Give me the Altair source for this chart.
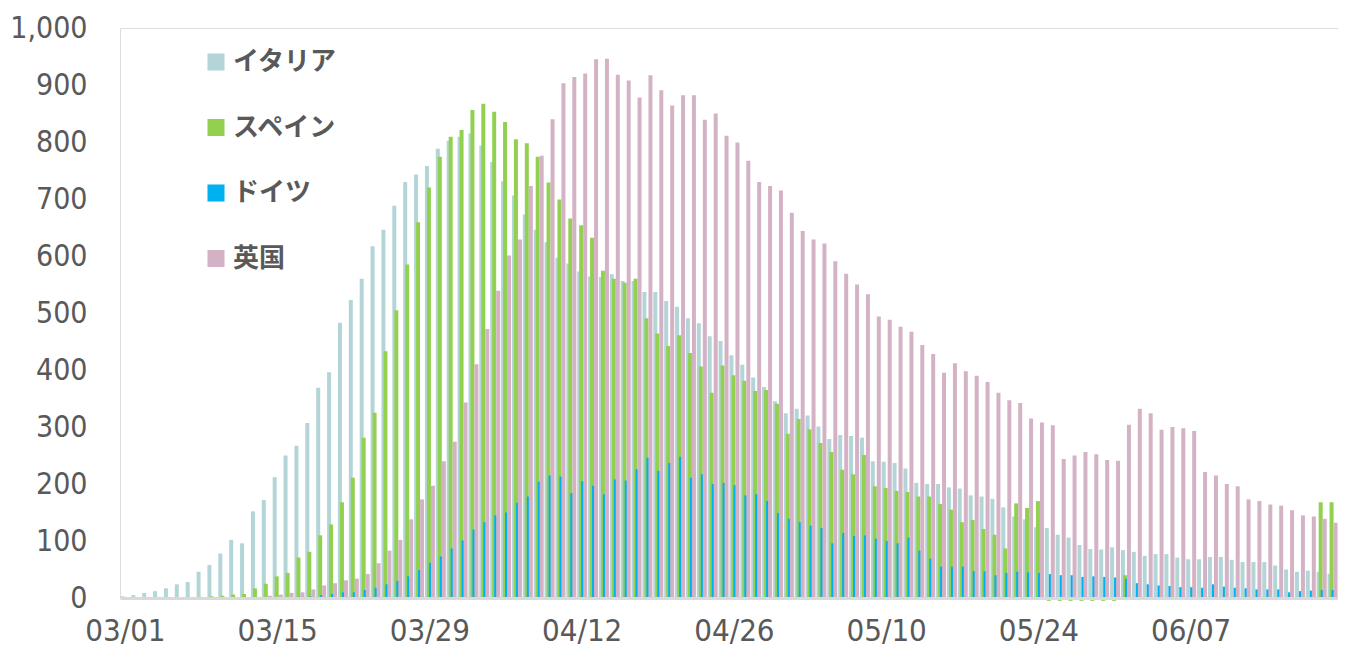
import altair as alt
import pandas as pd

countries = ["イタリア", "スペイン", "ドイツ", "英国"]
colors = ["#B4D5D8", "#92D050", "#00B0F0", "#D4B2C5"]

days = list(pd.date_range("2020-03-01", periods=112, freq="D").strftime("%m/%d"))
tick_days = ["03/01", "03/15", "03/29", "04/12", "04/26", "05/10", "05/24", "06/07"]

italy = [3, 5, 9, 12, 17, 24, 28, 46, 58, 78,
         102, 96, 152, 172, 212, 250, 267, 307, 369, 396,
         483, 523, 560, 617, 646, 688, 730, 743, 758, 788,
         802, 809, 815, 794, 765, 731, 706, 673, 646, 624,
         597, 587, 573, 564, 563, 568, 556, 556, 537, 537,
         521, 511, 491, 482, 459, 451, 426, 409, 387, 370,
         345, 324, 332, 320, 301, 279, 286, 284, 281, 240,
         239, 237, 227, 202, 200, 200, 194, 192, 180, 178,
         174, 159, 143, 138, 124, 123, 111, 106, 93, 86,
         85, 89, 84, 81, 74, 77, 77, 71, 68, 68,
         72, 72, 67, 63, 63, 63, 57, 50, 46, 48,
         46, 42]

spain = [0, 0, 0, 0, 0, 0, 0, 2, 3, 4,
         6, 7, 17, 25, 38, 44, 71, 81, 110, 129,
         168, 211, 281, 325, 433, 505, 585, 659, 720, 774,
         809, 821, 856, 867, 853, 835, 805, 798, 774, 729,
         699, 666, 654, 632, 574, 560, 553, 560, 491, 464,
         442, 461, 430, 406, 360, 408, 391, 381, 363, 365,
         341, 288, 314, 296, 272, 256, 225, 217, 251, 196,
         193, 188, 186, 178, 178, 165, 155, 133, 137, 121,
         111, 87, 166, 158, 170, -5, -5, -5, -5, -5,
         -5, -5, 40, 0, 0, 0, 0, 0, 0, 0,
         0, 0, 0, 0, 0, 0, 0, 0, 0, 0,
         168, 168]

germany = [0, 0, 0, 0, 0, 0, 0, 0, 0, 0,
           0, 0, 0, 0, 1, 1, 2, 3, 5, 7,
           10, 10, 14, 18, 24, 30, 38, 49, 62, 73,
           87, 101, 120, 133, 145, 150, 167, 178, 204, 215,
           213, 184, 205, 197, 182, 208, 206, 226, 246, 223,
           237, 248, 211, 217, 200, 202, 198, 180, 182, 170,
           149, 139, 133, 127, 123, 96, 114, 109, 110, 104,
           100, 96, 106, 83, 69, 55, 55, 55, 47, 47,
           40, 44, 46, 45, 44, 42, 40, 40, 37, 38,
           37, 36, 34, 26, 24, 22, 21, 19, 19, 18,
           24, 20, 18, 17, 15, 15, 15, 10, 12, 13,
           14, 14]

uk = [0, 0, 0, 0, 0, 0, 0, 0, 0, 0,
      1, 1, 2, 4, 6, 9, 10, 15, 22, 26,
      31, 34, 42, 61, 83, 102, 138, 173, 197, 240,
      274, 343, 410, 472, 539, 601, 629, 723, 776, 840,
      903, 914, 920, 945, 946, 918, 908, 878, 917, 891,
      864, 882, 882, 839, 850, 811, 799, 767, 730, 723,
      715, 676, 644, 629, 622, 591, 569, 550, 533, 494,
      488, 476, 467, 444, 428, 395, 412, 398, 390, 379,
      360, 347, 342, 315, 308, 303, 244, 250, 256, 252,
      242, 241, 304, 332, 324, 295, 300, 298, 293, 221,
      215, 200, 196, 173, 170, 164, 162, 154, 145, 143,
      139, 132]

series = [italy, spain, germany, uk]
offsets = [-3, -1, 1, 3]

rows = []
for c, vals in zip(countries, series):
    for d, v in zip(days, vals):
        rows.append({"day": d, "country": c, "value": v})
df = pd.DataFrame(rows)

axis_font = "Liberation Sans Narrow, DejaVu Sans Condensed, Roboto Condensed, Arial Narrow, sans-serif"

x_enc = alt.X(
    "day:O",
    sort=days,
    scale=alt.Scale(domain=days, paddingInner=0, paddingOuter=0),
    axis=alt.Axis(
        values=tick_days, title=None, labelAngle=0, ticks=False,
        domainColor="#D9D9D9", domainWidth=3, labelFont=axis_font,
        labelFontSize=31, labelColor="#595959", labelPadding=18,
        labelBaseline="top", bandPosition=0.25, zindex=1, labelFlush=False,
    ),
)
y_enc = alt.Y(
    "value:Q",
    scale=alt.Scale(domain=[0, 1000], nice=False, zero=False),
    axis=alt.Axis(
        values=list(range(0, 1001, 100)), format=",.0f", title=None,
        grid=False, domain=False, ticks=False, labelFont=axis_font,
        labelFontSize=30, labelColor="#595959", labelPadding=33,
        labelFlush=False,
    ),
)
color_enc = alt.Color(
    "country:N",
    scale=alt.Scale(domain=countries, range=colors),
    sort=countries,
    legend=alt.Legend(
        title=None, orient="none", legendX=83, legendY=21,
        symbolType="square", symbolSize=290, symbolStrokeWidth=0,
        labelFont="Noto Sans CJK JP", labelFontSize=26, labelFontWeight="bold",
        labelColor="#595959", rowPadding=39.5, labelOffset=4,
    ),
)

layers = []
for c, off in zip(countries, offsets):
    layers.append(
        alt.Chart(df)
        .transform_filter(alt.datum.country == c)
        .mark_bar(width=4, xOffset=off, clip=False)
        .encode(x=x_enc, y=y_enc, color=color_enc)
    )

chart = (
    alt.layer(*layers)
    .properties(
        width=1218, height=570,
        autosize=alt.AutoSizeParams(type="none"),
        padding={"left": 112, "top": 20, "right": 0, "bottom": 49},
    )
    .configure_view(strokeWidth=0, stroke="transparent")
    .configure(background="white")
)

chart.save("out.html", embed_options={"renderer": "svg", "actions": False})
